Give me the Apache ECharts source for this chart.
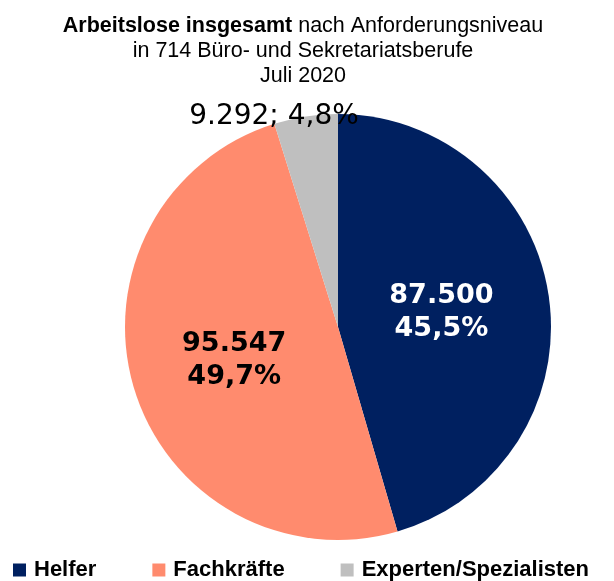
<!DOCTYPE html>
<html>
<head>
<meta charset="utf-8">
<script src="https://cdn.jsdelivr.net/npm/echarts@6/dist/echarts.min.js"></script>
<style>
  html, body { margin: 0; padding: 0; background: #fff; }
  #chart { width: 614px; height: 581px; }
</style>
</head>
<body>
<div id="chart"></div>
<script>
// Anforderungsniveau
const categories = ['Helfer', 'Fachkräfte', 'Experten/Spezialisten'];
const values = [87500, 95547, 9292];
const shareLabels = ['45,5%', '49,7%', '4,8%'];
const colors = ['#002060', '#FF8B6E', '#BFBFBF'];

const fmt = v => String(v).replace(/\B(?=(\d{3})+(?!\d))/g, '.');

const chart = echarts.init(document.getElementById('chart'));

const data = categories.map((name, i) => {
  const item = { name, value: values[i], itemStyle: { color: colors[i] } };
  if (i === 2) {
    item.label = {
      position: 'outside',
      formatter: p => fmt(p.value) + '; ' + shareLabels[p.dataIndex],
      color: '#000',
      fontWeight: 'normal',
      fontSize: 28,
      lineHeight: 30
    };
    item.labelLine = { show: false, length: 0, length2: 0 };
  } else {
    item.label = { color: i === 0 ? '#fff' : '#000' };
  }
  return item;
});

const option = {
  animation: false,
  backgroundColor: '#fff',
  title: {
    text: '{b|Arbeitslose insgesamt} nach Anforderungsniveau\nin 714 Büro- und Sekretariatsberufe\nJuli 2020',
    left: 298,
    textAlign: 'center',
    top: 9,
    textStyle: {
      fontFamily: 'Liberation Sans',
      fontSize: 21.5,
      fontWeight: 'normal',
      color: '#000',
      lineHeight: 25,
      rich: {
        b: { fontFamily: 'Liberation Sans', fontSize: 21.5, fontWeight: 'bold', color: '#000', lineHeight: 25 }
      }
    }
  },
  legend: {
    top: 554,
    left: 8,
    icon: 'rect',
    itemWidth: 13,
    itemHeight: 13,
    itemGap: 56,
    data: categories,
    textStyle: {
      fontFamily: 'Liberation Sans',
      fontWeight: 'bold',
      fontSize: 22,
      color: '#000',
      padding: [0, 0, 0, 3]
    }
  },
  series: [{
    type: 'pie',
    center: [338, 327],
    radius: 213,
    startAngle: 90,
    clockwise: true,
    avoidLabelOverlap: false,
    label: {
      show: true,
      position: 'inside',
      fontFamily: 'DejaVu Sans',
      fontWeight: 'bold',
      fontSize: 27,
      lineHeight: 33,
      formatter: p => fmt(p.value) + '\n' + shareLabels[p.dataIndex]
    },
    labelLayout: p => p.dataIndex === 2 ? { dx: 58, dy: 0 } : (p.dataIndex === 0 ? { dx: -5, dy: 1 } : { dx: 1, dy: 2 }),
    emphasis: { disabled: true },
    data
  }]
};

chart.setOption(option);
</script>
</body>
</html>
